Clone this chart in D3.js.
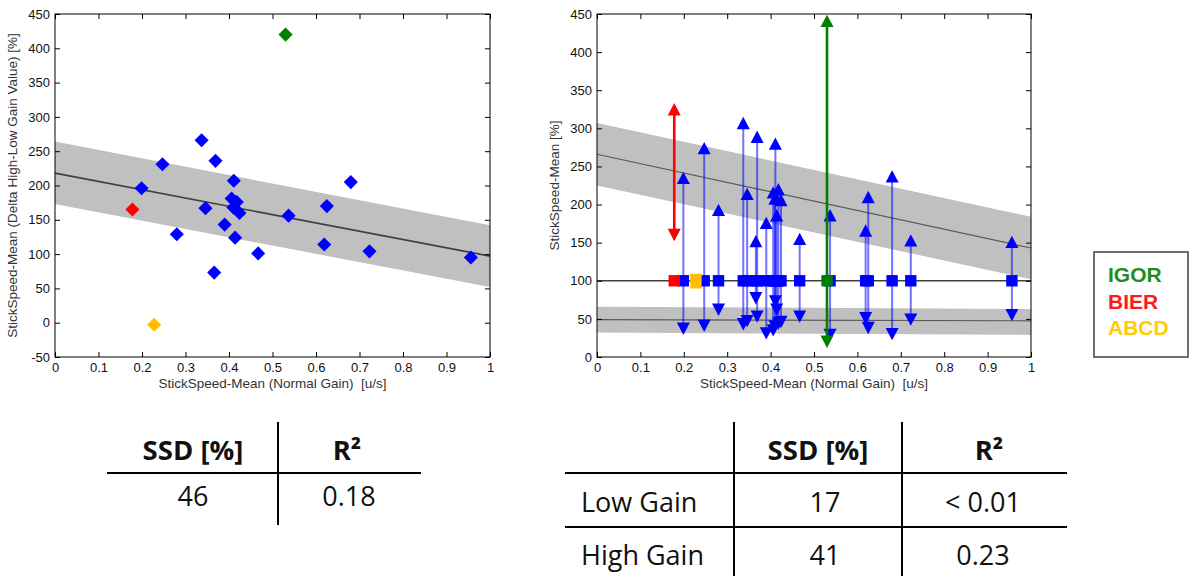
<!DOCTYPE html>
<html>
<head>
<meta charset="utf-8">
<script src="https://cdn.jsdelivr.net/npm/d3@7"></script>
<style>
  html, body { margin: 0; padding: 0; background: #fff; }
  svg { display: block; }
</style>
</head>
<body>
<div id="chart"></div>
<script>
// data
// normal gain mean speed per subject [u/s]
const normalGain = [0.178, 0.228, 0.530, 0.199, 0.247, 0.280, 0.337, 0.346, 0.369, 0.366, 0.390, 0.411,
  0.406, 0.418, 0.410, 0.424, 0.414, 0.467, 0.537, 0.619, 0.625, 0.680, 0.723, 0.956];
// delta high - low gain value [%] (left panel)
const deltaGain = [165, -3, 420, 196, 231, 129, 266, 167, 236, 73, 143, 207,
  181, 176, 168, 160, 124, 101, 156, 114, 170, 205, 104, 95];
// high gain / low gain value [%] (right panel, normal gain = 100)
const highGain = [325, 98, 441, 235, 274, 193, 307, 214, 289, 152, 176, 280,
  216, 220, 208, 206, 186, 155, 186, 166, 210, 237, 153, 151];
const lowGain = [160, 101, 20, 37, 41, 62, 43, 47, 53, 77, 31, 73,
  35, 44, 40, 46, 62, 53, 29, 51, 38, 30, 49, 55];
const group = ["BIER", "ABCD", "IGOR", "", "", "", "", "", "", "", "", "",
  "", "", "", "", "", "", "", "", "", "", "", ""];
const normalLevel = 100;

// regression lines with their bands (value at x = 0 and x = 1)
const fitDelta = [{x: 0, y: 218, lo: 173, hi: 264}, {x: 1, y: 97, lo: 52, hi: 142}];
const fitHigh = [{x: 0, y: 266, lo: 225, hi: 307}, {x: 1, y: 143, lo: 102, hi: 184}];
const fitLow = [{x: 0, y: 49, lo: 32, hi: 66}, {x: 1, y: 47.5, lo: 29, hi: 63}];

const xTicks = [0, 0.1, 0.2, 0.3, 0.4, 0.5, 0.6, 0.7, 0.8, 0.9, 1];
const yTicksLeft = [-50, 0, 50, 100, 150, 200, 250, 300, 350, 400, 450];
const yTicksRight = [0, 50, 100, 150, 200, 250, 300, 350, 400, 450];

const legendNames = ["IGOR", "BIER", "ABCD"];
const legendColors = ["#1f8c1f", "#ff1a1a", "#ffcc00"];

// tables
const tableLeftHead = ["SSD [%]", "R²"];
const tableLeftRow = ["46", "0.18"];
const tableRightHead = ["", "SSD [%]", "R²"];
const tableRightRows = [["Low Gain", "17", "< 0.01"], ["High Gain", "41", "0.23"]];

const colorOf = {BIER: "#ff0000", ABCD: "#ffbf00", IGOR: "#008000", "": "#0000ff"};

const subjects = normalGain.map((x, i) => ({
  x: x, delta: deltaGain[i], high: highGain[i], low: lowGain[i], group: group[i]
}));
// blue first, coloured ones on top
const drawOrder = subjects.filter(d => d.group === "")
  .concat(["ABCD", "BIER", "IGOR"].map(g => subjects.find(d => d.group === g)));

// helpers
const font = "'Liberation Sans', Arial, sans-serif";
const tableFont = "'Open Sans', 'Noto Sans', sans-serif";

const diamond = {
  draw(ctx, size) {
    const r = Math.sqrt(size / 2);
    ctx.moveTo(0, -r); ctx.lineTo(r, 0); ctx.lineTo(0, r); ctx.lineTo(-r, 0); ctx.closePath();
  }
};
const triUp = {
  draw(ctx, size) {
    const w = Math.sqrt(size) / 2, h = w * 0.95;
    ctx.moveTo(0, -h); ctx.lineTo(w, h); ctx.lineTo(-w, h); ctx.closePath();
  }
};
const triDown = {
  draw(ctx, size) {
    const w = Math.sqrt(size) / 2, h = w * 0.95;
    ctx.moveTo(0, h); ctx.lineTo(w, -h); ctx.lineTo(-w, -h); ctx.closePath();
  }
};

const svg = d3.select("#chart").append("svg")
  .attr("width", 1190)
  .attr("height", 576)
  .style("background", "#fff");

function frame(g, x, y, yTicks) {
  const [x0, x1] = x.range(), [y0, y1] = y.range();
  const fmt = d3.format(".1~f");
  g.append("g").attr("transform", `translate(0,${y0})`)
    .call(d3.axisBottom(x).tickValues(xTicks).tickFormat(fmt).tickSizeInner(-5).tickSizeOuter(0).tickPadding(6));
  g.append("g").attr("transform", `translate(0,${y1})`)
    .call(d3.axisTop(x).tickValues(xTicks).tickFormat("").tickSizeInner(-5).tickSizeOuter(0));
  g.append("g").attr("transform", `translate(${x0},0)`)
    .call(d3.axisLeft(y).tickValues(yTicks).tickFormat(d => String(d)).tickSizeInner(-5).tickSizeOuter(0).tickPadding(5));
  g.append("g").attr("transform", `translate(${x1},0)`)
    .call(d3.axisRight(y).tickValues(yTicks).tickFormat("").tickSizeInner(-5).tickSizeOuter(0));
  g.selectAll(".domain").remove();
  g.selectAll(".tick line").attr("stroke", "#000");
  g.selectAll(".tick text").attr("fill", "#111").style("font-family", font).style("font-size", "13px");
  g.append("rect")
    .attr("x", x0).attr("y", y1)
    .attr("width", x1 - x0).attr("height", y0 - y1)
    .attr("fill", "none").attr("stroke", "#000").attr("stroke-width", 1);
}

function band(g, x, y, fit, lineColor, lineWidth) {
  g.append("path").datum(fit)
    .attr("d", d3.area().x(d => x(d.x)).y0(d => y(d.lo)).y1(d => y(d.hi)))
    .attr("fill", "#c0c0c0");
  g.append("path").datum(fit)
    .attr("d", d3.line().x(d => x(d.x)).y(d => y(d.y)))
    .attr("fill", "none").attr("stroke", lineColor).attr("stroke-width", lineWidth);
}

function labels(g, x, y, ylabel) {
  const [x0, x1] = x.range(), [y0, y1] = y.range();
  g.append("text")
    .attr("x", (x0 + x1) / 2).attr("y", y0 + 31)
    .attr("text-anchor", "middle")
    .style("white-space", "pre")
    .style("font-family", font).style("font-size", "13.5px").attr("fill", "#333")
    .text("StickSpeed-Mean (Normal Gain)  [u/s]");
  g.append("text")
    .attr("transform", `translate(${x0 - 38},${(y0 + y1) / 2}) rotate(-90)`)
    .attr("text-anchor", "middle")
    .style("font-family", font).style("font-size", "13.5px").attr("fill", "#333")
    .text(ylabel);
}

// left panel: delta vs normal gain
const xL = d3.scaleLinear().domain([0, 1]).range([55, 490]);
const yL = d3.scaleLinear().domain([-50, 450]).range([357, 14]);
const left = svg.append("g");

band(left, xL, yL, fitDelta, "#404040", 1.6);
frame(left, xL, yL, yTicksLeft);
labels(left, xL, yL, "StickSpeed-Mean (Delta High-Low Gain Value) [%]");

left.selectAll(".pt")
  .data(drawOrder)
  .enter()
  .append("path")
  .attr("transform", d => `translate(${xL(d.x)},${yL(d.delta)})`)
  .attr("d", d3.symbol(diamond, 100))
  .attr("fill", d => colorOf[d.group]);

// right panel: high / low gain around normal gain
const xR = d3.scaleLinear().domain([0, 1]).range([597, 1031]);
const yR = d3.scaleLinear().domain([0, 450]).range([357, 14]);
const right = svg.append("g");

band(right, xR, yR, fitHigh, "#5a5a5a", 1.2);
band(right, xR, yR, fitLow, "#5a5a5a", 1.2);
right.append("line")
  .attr("x1", xR(0)).attr("x2", xR(1))
  .attr("y1", yR(normalLevel)).attr("y2", yR(normalLevel))
  .attr("stroke", "#404040").attr("stroke-width", 1.6);
frame(right, xR, yR, yTicksRight);
labels(right, xR, yR, "StickSpeed-Mean [%]");

let node = right.selectAll(".subj")
  .data(drawOrder)
  .enter()
  .append("g")
  .attr("class", "subj");

node.append("line")
  .attr("x1", d => xR(d.x)).attr("x2", d => xR(d.x))
  .attr("y1", d => yR(d.low)).attr("y2", d => yR(d.high))
  .attr("stroke", d => colorOf[d.group])
  .attr("stroke-opacity", d => d.group === "" ? 0.55 : 1)
  .attr("stroke-width", d => d.group === "" ? 2 : 2.6);

node.append("path")
  .attr("transform", d => `translate(${xR(d.x)},${yR(d.high)})`)
  .attr("d", d3.symbol(triUp, 170))
  .attr("fill", d => colorOf[d.group]);

node.append("path")
  .attr("transform", d => `translate(${xR(d.x)},${yR(d.low)})`)
  .attr("d", d3.symbol(triDown, 170))
  .attr("fill", d => colorOf[d.group]);

node.append("path")
  .attr("transform", d => `translate(${xR(d.x)},${yR(normalLevel)})`)
  .attr("d", d3.symbol(d3.symbolSquare, 130))
  .attr("fill", d => colorOf[d.group]);

// legend
const legend = svg.append("g");
legend.append("rect")
  .attr("x", 1094).attr("y", 252)
  .attr("width", 94).attr("height", 105)
  .attr("fill", "#fff").attr("stroke", "#404040").attr("stroke-width", 1.5);
legend.selectAll("text")
  .data(legendNames)
  .enter()
  .append("text")
  .attr("x", 1108)
  .attr("y", (d, i) => 282 + i * 26.7)
  .style("font-family", font).style("font-weight", "bold").style("font-size", "21px")
  .attr("fill", (d, i) => legendColors[i])
  .text(d => d);

// tables
function cellText(g, txt, x, y, anchor, bold) {
  g.append("text")
    .attr("x", x).attr("y", y)
    .attr("text-anchor", anchor)
    .style("font-family", tableFont)
    .style("font-size", bold ? "27.5px" : "27px")
    .style("font-weight", bold ? "bold" : "normal")
    .attr("fill", "#111")
    .text(txt);
}
function rule(g, x1, y1, x2, y2) {
  g.append("line")
    .attr("x1", x1).attr("y1", y1).attr("x2", x2).attr("y2", y2)
    .attr("stroke", "#000").attr("stroke-width", 2);
}

const tl = svg.append("g");
rule(tl, 278, 422, 278, 525);
rule(tl, 107, 473, 421, 473);
const tlHead = [193, 347], tlVal = [193, 349];
tableLeftHead.forEach((t, i) => cellText(tl, t, tlHead[i], 460, "middle", true));
tableLeftRow.forEach((t, i) => cellText(tl, t, tlVal[i], 506, "middle", false));

const tr = svg.append("g");
rule(tr, 734, 422, 734, 576);
rule(tr, 902, 422, 902, 576);
rule(tr, 565, 473, 1067, 473);
rule(tr, 565, 527, 1067, 527);
const trHead = [582, 818, 989], trVal = [581, 825, 983];
tableRightHead.forEach((t, i) => { if (t) cellText(tr, t, trHead[i], 460, "middle", true); });
tableRightRows.forEach((row, r) => {
  row.forEach((t, i) => cellText(tr, t, trVal[i], 512 + r * 53, i === 0 ? "start" : "middle", false));
});
</script>
</body>
</html>
